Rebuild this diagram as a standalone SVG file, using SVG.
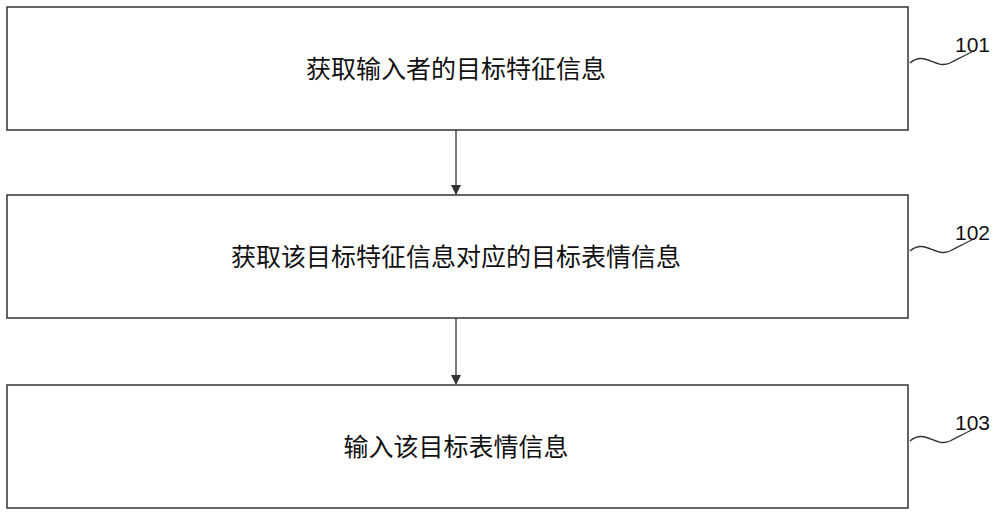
<svg xmlns="http://www.w3.org/2000/svg" width="1000" height="520" viewBox="0 0 1000 520">
<style>
.box{fill:#fff;stroke:#333;stroke-width:1.5}
.t{font-family:"Liberation Serif","Noto Sans CJK SC",serif;font-size:25px;fill:#111;text-anchor:middle}
.n{font-family:"Liberation Sans",sans-serif;font-size:21px;fill:#111}
.sq{fill:none;stroke:#333;stroke-width:1.3}
.c{stroke:#333;stroke-width:1.3;fill:none}
</style>
<defs><marker id="a" markerWidth="10" markerHeight="10" refX="9" refY="5" orient="auto" markerUnits="userSpaceOnUse"><path d="M0,0 L10,5 L0,10 Z" fill="#333"/></marker></defs>
<rect width="1000" height="520" fill="#fff"/>
<g id="n101"><rect class="box" x="7" y="7" width="901" height="123"/><text class="t" x="456" y="78">获取输入者的目标特征信息</text><path class="sq" d="M910,63 C925,50 935,70 950,63 C960,58 965,55 972,52"/><text class="n" x="955" y="52">101</text></g>
<g id="n102"><rect class="box" x="7" y="195" width="901" height="123"/><text class="t" x="456" y="266">获取该目标特征信息对应的目标表情信息</text><path class="sq" d="M910,251 C925,238 935,258 950,251 C960,246 965,243 972,240"/><text class="n" x="955" y="240">102</text></g>
<g id="n103"><rect class="box" x="7" y="385" width="901" height="123"/><text class="t" x="456" y="456">输入该目标表情信息</text><path class="sq" d="M910,441 C925,428 935,448 950,441 C960,436 965,433 972,430"/><text class="n" x="955" y="430">103</text></g>
<g id="connectors"><line class="c" x1="456" y1="130" x2="456" y2="194" marker-end="url(#a)"/><line class="c" x1="456" y1="318" x2="456" y2="384" marker-end="url(#a)"/></g>
</svg>
